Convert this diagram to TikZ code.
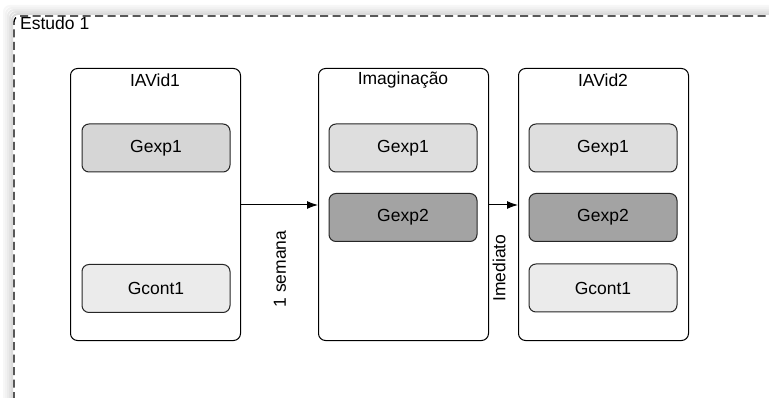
\documentclass[tikz,border=0pt]{standalone}
\usepackage{fontspec}
\setmainfont{Liberation Sans}
\usetikzlibrary{arrows.meta}
\begin{document}
\begin{tikzpicture}[x=1pt,y=-1pt,
  txt/.style={font=\fontsize{17.5}{20}\selectfont},
  phase/.style={draw=black,line width=1pt,rounded corners=7pt,minimum width=170pt,minimum height=272pt,anchor=north west,inner sep=0pt},
  grp/.style={txt,draw=black!85,line width=1pt,rounded corners=7pt,minimum width=148pt,minimum height=48pt},
  ttl/.style={txt,anchor=center},
  conn/.style={draw=black,line width=1pt,-{Latex[length=11pt,width=8pt]}},
  lbl/.style={txt,rotate=90},
  shade/.style={line width=2pt,rounded corners=6pt}
]
\useasboundingbox (0,0) rectangle (769,398);
\foreach \d/\c in {10/3,8/5,6/8,4/11,2/14}{
  \draw[shade,black!\c] (14-\d,400) -- (14-\d,16-\d) -- (771,16-\d);
}
\fill[white] (14.5,16.5) rectangle (771,400);
\draw[line width=1.3pt,dash pattern=on 8pt off 4.5pt,rounded corners=6pt] (14,400) -- (14,16) -- (771,16);
\node[txt,anchor=north west,inner sep=0pt] (study) at (20,17) {Estudo 1};

\node[phase] (p1) at (70,68) {};
\node[phase] (p2) at (318,68) {};
\node[phase] (p3) at (518,68) {};

\node[ttl] (t1) at (155,80) {IAVid1};
\node[ttl] (t2) at (403,80) {Imaginação};
\node[ttl] (t3) at (603,80) {IAVid2};

\node[grp,fill=black!16] (a1) at (156,148) {Gexp1};
\node[grp,fill=black!8] (a2) at (156,288.5) {Gcont1};

\node[grp,fill=black!13] (b1) at (403,148) {Gexp1};
\node[grp,fill=black!36] (b2) at (403,217.5) {Gexp2};

\node[grp,fill=black!13] (c1) at (603,148) {Gexp1};
\node[grp,fill=black!36] (c2) at (603,217.5) {Gexp2};
\node[grp,fill=black!8] (c3) at (603,288) {Gcont1};

\coordinate (s1) at (240,205);
\coordinate (e1) at (318,205);
\coordinate (s2) at (488,205);
\coordinate (e2) at (518,205);
\draw[conn] (s1) -- (e1);
\draw[conn] (s2) -- (e2);
\node[lbl] (l1) at (280,269) {1 semana};
\node[lbl] (l2) at (499,268) {Imediato};
\end{tikzpicture}
\end{document}
